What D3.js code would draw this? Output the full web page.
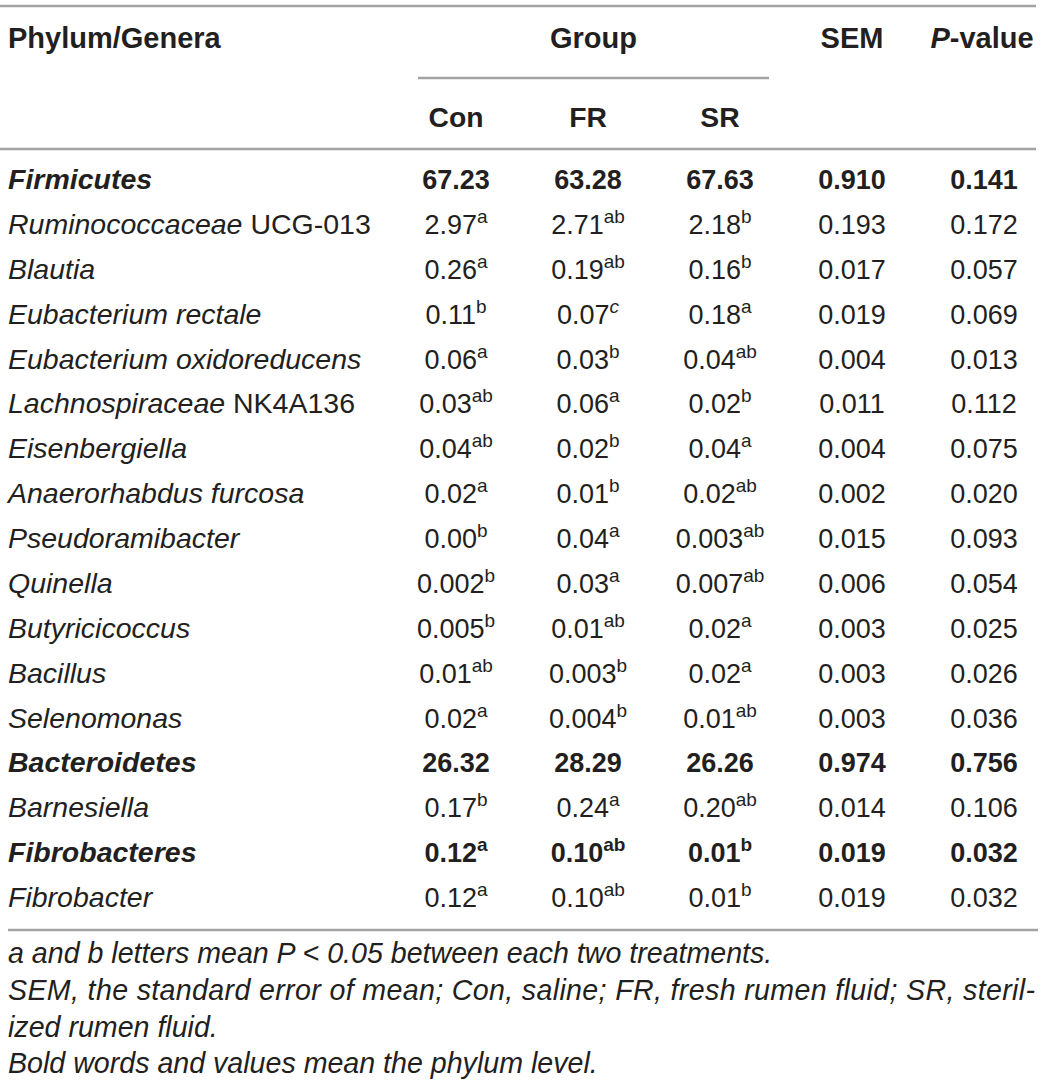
<!DOCTYPE html>
<html><head><meta charset="utf-8">
<script src="https://cdn.jsdelivr.net/npm/d3@7"></script>
<style>
html,body{margin:0;padding:0;background:#fff;}
svg text{font-family:"Liberation Sans",Arial,Helvetica,sans-serif;fill:#231f20;}
</style></head>
<body>
<svg id="chart" width="1042" height="1088"></svg>
<script>
const columns = ["Con","FR","SR","SEM","P-value"];
const labelItalic = ["Firmicutes","Ruminococcaceae","Blautia","Eubacterium rectale","Eubacterium oxidoreducens","Lachnospiraceae","Eisenbergiella","Anaerorhabdus furcosa","Pseudoramibacter","Quinella","Butyricicoccus","Bacillus","Selenomonas","Bacteroidetes","Barnesiella","Fibrobacteres","Fibrobacter"];
const labelSuffix = ["", " UCG-013", "", "", "", " NK4A136", "", "", "", "", "", "", "", "", "", "", ""];
const isPhylum = [true,false,false,false,false,false,false,false,false,false,false,false,false,true,false,true,false];
const conVals = ["67.23","2.97","0.26","0.11","0.06","0.03","0.04","0.02","0.00","0.002","0.005","0.01","0.02","26.32","0.17","0.12","0.12"];
const conSup  = ["","a","a","b","a","ab","ab","a","b","b","b","ab","a","","b","a","a"];
const frVals  = ["63.28","2.71","0.19","0.07","0.03","0.06","0.02","0.01","0.04","0.03","0.01","0.003","0.004","28.29","0.24","0.10","0.10"];
const frSup   = ["","ab","ab","c","b","a","b","b","a","a","ab","b","b","","a","ab","ab"];
const srVals  = ["67.63","2.18","0.16","0.18","0.04","0.02","0.04","0.02","0.003","0.007","0.02","0.02","0.01","26.26","0.20","0.01","0.01"];
const srSup   = ["","b","b","a","ab","b","a","ab","ab","ab","a","a","ab","","ab","b","b"];
const semVals = ["0.910","0.193","0.017","0.019","0.004","0.011","0.004","0.002","0.015","0.006","0.003","0.003","0.003","0.974","0.014","0.019","0.019"];
const pVals   = ["0.141","0.172","0.057","0.069","0.013","0.112","0.075","0.020","0.093","0.054","0.025","0.026","0.036","0.756","0.106","0.032","0.032"];
const footnotes = [
  "a and b letters mean P < 0.05 between each two treatments.",
  "SEM, the standard error of mean; Con, saline; FR, fresh rumen fluid; SR, steril-",
  "ized rumen fluid.",
  "Bold words and values mean the phylum level."
];

const svg = d3.select("#chart");
const FS_VAL = 27, FS_LAB = 28.5, FS_HDR = 29, FS_FN = 28.6, LINE = "#a3a3a3";

const x = d3.scalePoint().domain(columns).range([456, 984]);
const y = d3.scaleLinear().domain([0, labelItalic.length-1]).range([189, 907]);

// rules
svg.append("line").attr("x1",0).attr("x2",1036).attr("y1",6).attr("y2",6).attr("stroke",LINE).attr("stroke-width",2.5);
svg.append("line").attr("x1",418).attr("x2",769).attr("y1",78).attr("y2",78).attr("stroke",LINE).attr("stroke-width",2.5);
svg.append("line").attr("x1",0).attr("x2",1036).attr("y1",149).attr("y2",149).attr("stroke",LINE).attr("stroke-width",2.5);
svg.append("line").attr("x1",8).attr("x2",1038).attr("y1",930).attr("y2",930).attr("stroke",LINE).attr("stroke-width",2.5);

// header
const hdr = svg.append("g").attr("font-size",FS_HDR).attr("font-weight","bold");
hdr.append("text").attr("x",8).attr("y",48).text("Phylum/Genera");
hdr.append("text").attr("x",(418+769)/2).attr("y",48).attr("text-anchor","middle").text("Group");
hdr.append("text").attr("x",x("SEM")).attr("y",48).attr("text-anchor","middle").text("SEM");
const pv = hdr.append("text").attr("x",x("P-value")-2).attr("y",48).attr("text-anchor","middle");
pv.append("tspan").attr("font-style","italic").text("P");
pv.append("tspan").text("-value");
["Con","FR","SR"].forEach(c=>{
  hdr.append("text").attr("x",x(c)).attr("y",127).attr("text-anchor","middle").attr("font-size",28.3).text(c);
});

// row labels
const body = svg.append("g");
labelItalic.forEach((lab,i)=>{
  const t = body.append("text").attr("x",8).attr("y",y(i)).attr("font-size",FS_LAB)
    .attr("font-weight",isPhylum[i]?"bold":"normal");
  t.append("tspan").attr("font-style","italic").text(lab);
  if (labelSuffix[i]) t.append("tspan").text(labelSuffix[i]);
});

// values
const cols = [
  {key:"Con", vals:conVals, sup:conSup},
  {key:"FR", vals:frVals, sup:frSup},
  {key:"SR", vals:srVals, sup:srSup},
  {key:"SEM", vals:semVals, sup:null},
  {key:"P-value", vals:pVals, sup:null}
];
cols.forEach(col=>{
  col.vals.forEach((v,i)=>{
    const t = body.append("text").attr("x",x(col.key)).attr("y",y(i)).attr("font-size",FS_VAL)
      .attr("text-anchor","middle").attr("font-weight",isPhylum[i]?"bold":"normal");
    t.append("tspan").text(v);
    if (col.sup && col.sup[i]) {
      t.append("tspan").attr("font-size",19).attr("dy",-11)
        .attr("font-style", col.sup[i]==="c" ? "italic" : "normal")
        .text(col.sup[i]);
    }
  });
});

// footnotes
const fy = [963, 1000, 1037, 1073];
const fn = svg.append("g").attr("font-size",FS_FN).attr("font-style","italic");
footnotes.forEach((f,i)=>{
  const t = fn.append("text").attr("x",8).attr("y",fy[i]).text(f);
  if (i===1) t.attr("textLength",1027).attr("lengthAdjust","spacing");
});
</script>
</body></html>
